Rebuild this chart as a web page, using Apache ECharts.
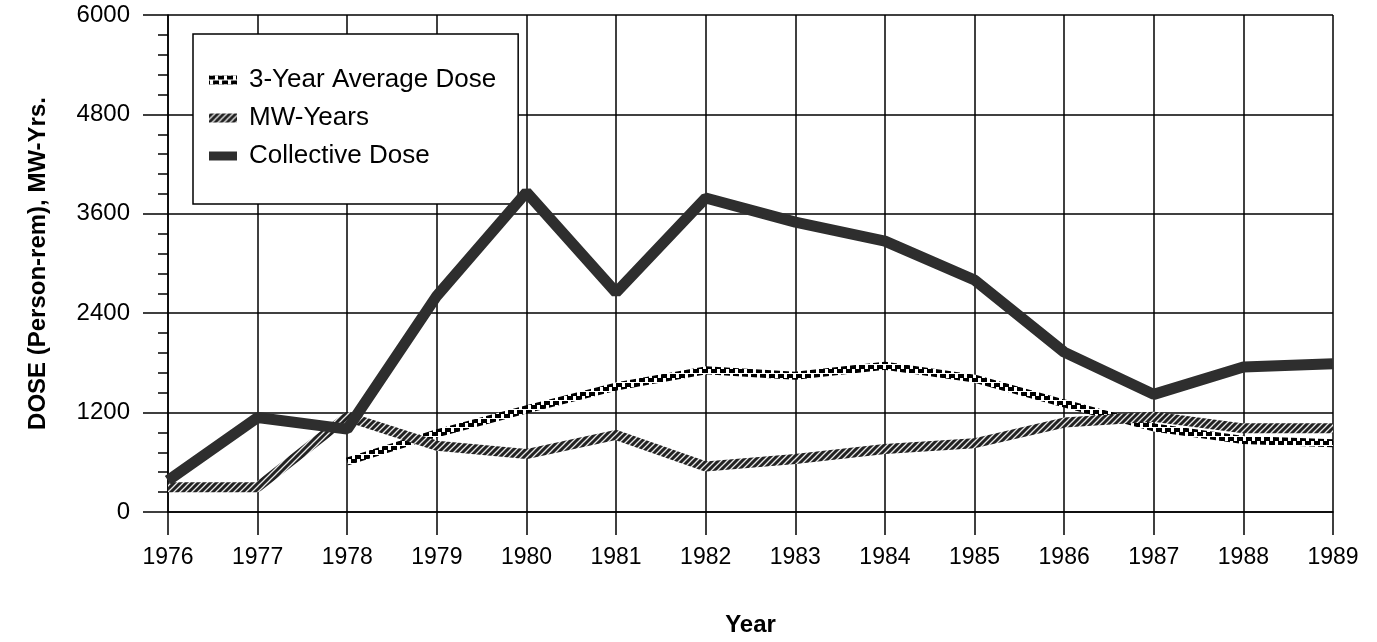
<!DOCTYPE html>
<html>
<head>
<meta charset="utf-8">
<title>Collective Dose</title>
<script src="https://cdn.jsdelivr.net/npm/echarts@6/dist/echarts.min.js"></script>
<style>
  html, body { margin: 0; padding: 0; background: #fff; }
  #main { width: 1377px; height: 642px; }
</style>
</head>
<body>
<div id="main"></div>
<script>
// values
var years = ['1976', '1977', '1978', '1979', '1980', '1981', '1982', '1983', '1984', '1985', '1986', '1987', '1988', '1989'];
var avgDose = [null, null, 610, 950, 1240, 1515, 1710, 1645, 1765, 1610, 1310, 1020, 870, 830];
var mwYears = [300, 300, 1150, 800, 700, 930, 550, 640, 760, 830, 1080, 1150, 1010, 1010];
var collDose = [380, 1140, 1000, 2610, 3860, 2650, 3790, 3500, 3270, 2800, 1930, 1420, 1750, 1790];

// little canvas patterns for the hatched / dotted strokes
function makePattern(size, draw) {
  var c = document.createElement('canvas');
  c.width = size; c.height = size;
  var ctx = c.getContext('2d');
  draw(ctx, size);
  return { image: c, repeat: 'repeat' };
}
var hatch = makePattern(6, function (ctx, s) {
  ctx.fillStyle = '#222';
  ctx.fillRect(0, 0, s, s);
  ctx.strokeStyle = '#e8e8e8';
  ctx.lineWidth = 1.3;
  ctx.beginPath();
  ctx.moveTo(-1, s + 1); ctx.lineTo(s + 1, -1);
  ctx.moveTo(-1, 1); ctx.lineTo(1, -1);
  ctx.moveTo(s - 1, s + 1); ctx.lineTo(s + 1, s - 1);
  ctx.stroke();
});
var dots = makePattern(9, function (ctx, s) {
  ctx.fillStyle = '#fff';
  ctx.fillRect(0, 0, s, s);
  ctx.fillStyle = '#000';
  ctx.fillRect(0, 0, 6, 4);
  ctx.fillRect(4, 5, 6, 4);
  ctx.fillRect(0, 5, 1, 4);
});

var font = '"Liberation Sans", Arial, Helvetica, sans-serif';
var chart = echarts.init(document.getElementById('main'));

var option = {
  animation: false,
  backgroundColor: '#fff',
  textStyle: { fontFamily: font, color: '#000' },
  grid: { left: 168, right: 44, top: 15, bottom: 128 },
  legend: {
    orient: 'vertical',
    left: 193,
    top: 34,
    padding: [33, 22, 35, 16],
    itemGap: 12,
    itemWidth: 28,
    itemHeight: 9,
    icon: 'rect',
    borderColor: '#000',
    borderWidth: 1.5,
    backgroundColor: '#fff',
    textStyle: { fontSize: 26, color: '#000', fontFamily: font, padding: [0, 0, 0, 7] },
    data: ['3-Year Average Dose', 'MW-Years', 'Collective Dose']
  },
  xAxis: {
    type: 'category',
    data: years,
    boundaryGap: false,
    name: 'Year',
    nameLocation: 'middle',
    nameGap: 101,
    nameTextStyle: { fontSize: 24, fontWeight: 'bold', color: '#000' },
    axisLine: { lineStyle: { color: '#000', width: 1.5 } },
    axisTick: { length: 23, lineStyle: { color: '#000', width: 1.5 } },
    axisLabel: { fontSize: 23, color: '#000', margin: 34, interval: 0 },
    splitLine: { show: true, lineStyle: { color: '#000', width: 1.5 } }
  },
  yAxis: {
    type: 'value',
    min: 0,
    max: 6000,
    interval: 1200,
    name: 'DOSE (Person-rem), MW-Yrs.',
    nameLocation: 'middle',
    nameGap: 118,
    nameTextStyle: { fontSize: 24, fontWeight: 'bold', color: '#000' },
    axisLine: { show: true, lineStyle: { color: '#000', width: 1.5 } },
    axisTick: { show: true, length: 25, lineStyle: { color: '#000', width: 1.5 } },
    minorTick: { show: true, splitNumber: 5, length: 10, lineStyle: { color: '#000', width: 1.5 } },
    axisLabel: {
      fontSize: 24, color: '#000', margin: 38,
      formatter: function (v) { return String(v); }
    },
    splitLine: { show: true, lineStyle: { color: '#000', width: 1.5 } }
  },
  series: [
    {
      name: '3-Year Average Dose',
      type: 'line',
      data: avgDose,
      showSymbol: false,
      symbol: 'none',
      connectNulls: false,
      lineStyle: { width: 8, color: dots },
      itemStyle: { color: dots },
      z: 3
    },
    {
      name: 'MW-Years',
      type: 'line',
      data: mwYears,
      showSymbol: false,
      symbol: 'none',
      lineStyle: { width: 10, color: hatch },
      itemStyle: { color: hatch },
      z: 4
    },
    {
      name: 'Collective Dose',
      type: 'line',
      data: collDose,
      showSymbol: false,
      symbol: 'none',
      lineStyle: { width: 11, color: '#2e2e2e' },
      itemStyle: { color: '#2e2e2e' },
      z: 5
    }
  ]
};

chart.setOption(option);
</script>
</body>
</html>
